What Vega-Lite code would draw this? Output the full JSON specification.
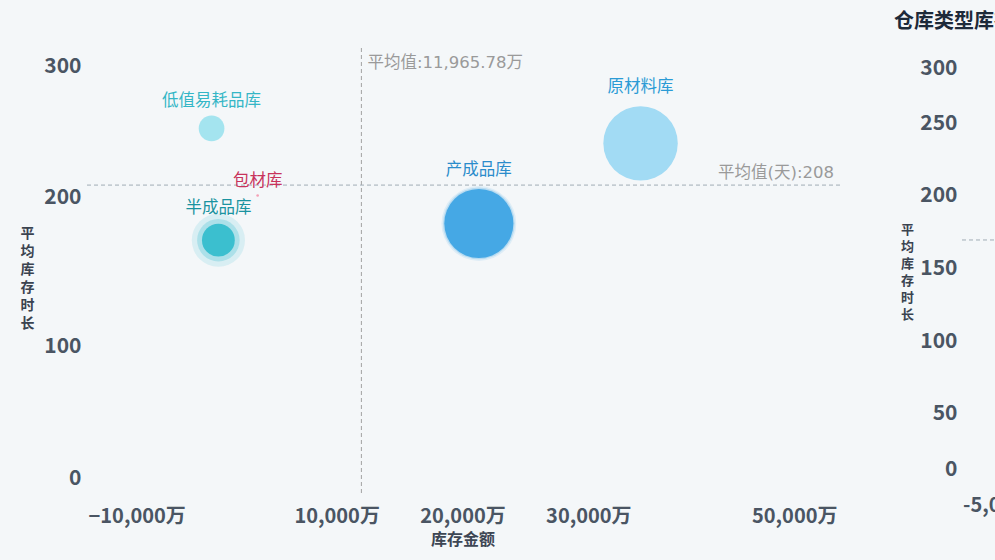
{
  "$schema": "https://vega.github.io/schema/vega-lite/v6.json",
  "width": 755,
  "height": 447,
  "autosize": {"type": "none"},
  "padding": {"left": 85, "top": 48, "right": 155, "bottom": 65},
  "background": "#f4f7f9",
  "title": {
    "text": "仓库类型库存指标分布",
    "anchor": "start",
    "frame": "group",
    "dx": -68,
    "offset": 18,
    "fontSize": 20,
    "fontWeight": "bold",
    "color": "#1d2a3a",
    "font": "Noto Sans CJK SC"
  },
  "config": {
    "view": {"stroke": null},
    "font": "Noto Sans CJK SC"
  },
  "datasets": {
    "wh": [
      {"name": "低值易耗品库", "amount": 58.9, "days": 246, "qty": 169},
      {"name": "包材库", "amount": 3720, "days": 201, "qty": 1.8},
      {"name": "半成品库", "amount": 600, "days": 171, "qty": 275},
      {"name": "产成品库", "amount": 21300.01, "days": 182.24, "qty": 1222.26},
      {"name": "原材料库", "amount": 34150, "days": 236, "qty": 1417.6}
    ],
    "avg": [
      {"avgAmount": 11965.78, "avgDays": 208, "amountLabel": "平均值:11,965.78万", "daysLabel": "平均值(天):208"}
    ],
    "right": [
      {"title": "仓库类型库存指标分布", "xStart": -5000, "xEnd": 45000, "xStartLabel": "-5,000万", "avgDays": 169.7}
    ]
  },
  "resolve": {"scale": {"x": "independent", "y": "independent"}},
  "layer": [
    {
      "layer": [
        {
          "data": {"name": "avg"},
          "mark": {"type": "rule", "color": "#a3a3a3", "strokeDash": [4, 3], "strokeWidth": 1},
          "encoding": {
            "x": {"field": "avgAmount", "type": "quantitative", "scale": {"domain": [-10000, 50000], "nice": false, "zero": false}}
          }
        },
        {
          "data": {"name": "avg"},
          "mark": {"type": "rule", "color": "#a0adb5", "strokeDash": [4, 3], "strokeWidth": 1},
          "encoding": {
            "y": {"field": "avgDays", "type": "quantitative", "scale": {"domain": [0, 300], "nice": false, "zero": false}}
          }
        },
        {
          "data": {"name": "wh"},
          "transform": [{"filter": "datum.name === '半成品库'"}],
          "mark": {"type": "circle", "size": 2830, "color": "#3bbfcf", "opacity": 0.15},
          "encoding": {
            "x": {"field": "amount", "type": "quantitative"},
            "y": {"field": "days", "type": "quantitative"}
          }
        },
        {
          "data": {"name": "wh"},
          "transform": [{"filter": "datum.name === '半成品库'"}],
          "mark": {"type": "circle", "size": 1810, "color": "#3bbfcf", "opacity": 0.28},
          "encoding": {
            "x": {"field": "amount", "type": "quantitative"},
            "y": {"field": "days", "type": "quantitative"}
          }
        },
        {
          "data": {"name": "wh"},
          "transform": [{"filter": "datum.name === '产成品库'"}],
          "mark": {"type": "circle", "size": 5600, "color": "#45a8e5", "opacity": 0.12},
          "encoding": {
            "x": {"field": "amount", "type": "quantitative"},
            "y": {"field": "days", "type": "quantitative"}
          }
        },
        {
          "data": {"name": "wh"},
          "transform": [{"filter": "datum.name === '产成品库'"}],
          "mark": {"type": "circle", "size": 5150, "color": "#45a8e5", "opacity": 0.25},
          "encoding": {
            "x": {"field": "amount", "type": "quantitative"},
            "y": {"field": "days", "type": "quantitative"}
          }
        },
        {
          "data": {"name": "wh"},
          "mark": {"type": "circle", "opacity": 1},
          "encoding": {
            "x": {
              "field": "amount",
              "type": "quantitative",
              "axis": {
                "values": [-10000, 10000, 20000, 30000, 50000],
                "labelExpr": "format(datum.value, ',') + '万'",
                "labelFlush": true,
                "labelFlushOffset": -3,
                "labelFontSize": 20,
                "labelFontWeight": "bold",
                "labelColor": "#4a5563",
                "labelPadding": 11,
                "domain": false,
                "ticks": false,
                "tickSize": 0,
                "grid": false,
                "title": "库存金额",
                "titleFontSize": 16,
                "titleFontWeight": "bold",
                "titleColor": "#3d4654",
                "titlePadding": 5
              }
            },
            "y": {
              "field": "days",
              "type": "quantitative",
              "axis": {
                "values": [0, 100, 200, 300],
                "labelFlush": true,
                "labelFlushOffset": -7,
                "labelFontSize": 21,
                "labelFontWeight": "bold",
                "labelColor": "#4a5563",
                "labelPadding": 4,
                "domain": false,
                "ticks": false,
                "tickSize": 0,
                "grid": false,
                "title": ["平", "均", "库", "存", "时", "长"],
                "titleAngle": 0,
                "titleX": -58,
                "titleY": 185,
                "titleAlign": "center",
                "titleBaseline": "middle",
                "titleFontSize": 14,
                "titleLineHeight": 18,
                "titleFontWeight": "bold",
                "titleColor": "#3a4350"
              }
            },
            "size": {
              "field": "qty",
              "type": "quantitative",
              "scale": {"type": "linear", "domain": [0, 1222.26], "range": [0, 4778], "zero": true},
              "legend": null
            },
            "color": {
              "field": "name",
              "type": "nominal",
              "scale": {
                "domain": ["低值易耗品库", "包材库", "半成品库", "产成品库", "原材料库"],
                "range": ["#a4e4ef", "#f4a0b5", "#3bbfcf", "#45a8e5", "#a2dbf4"]
              },
              "legend": null
            },
            "tooltip": [
              {"field": "name", "title": "仓库"},
              {"field": "amount", "title": "库存金额", "format": ",.2f"},
              {"field": "days", "title": "平均库存时长", "format": ".2f"},
              {"field": "qty", "title": "库存数量", "format": ",.2f"}
            ]
          }
        },
        {
          "data": {"name": "wh"},
          "mark": {"type": "text", "theta": 0, "fontSize": 16.5, "baseline": "middle", "align": "center"},
          "encoding": {
            "x": {"field": "amount", "type": "quantitative"},
            "y": {"field": "days", "type": "quantitative"},
            "radius": {
              "field": "qty",
              "type": "quantitative",
              "scale": {"type": "sqrt", "domain": [0, 1222.26], "range": [13, 53], "zero": false}
            },
            "text": {"field": "name"},
            "fill": {
              "field": "name",
              "type": "nominal",
              "scale": {
                "domain": ["低值易耗品库", "包材库", "半成品库", "产成品库", "原材料库"],
                "range": ["#34b6c6", "#c8335c", "#1a93a0", "#2b8ccb", "#2b9bd5"]
              },
              "legend": null
            }
          }
        },
        {
          "data": {"name": "avg"},
          "mark": {"type": "text", "align": "left", "baseline": "top", "dx": 6, "dy": 7, "fontSize": 16.5, "color": "#9a9a9a", "font": "DejaVu Sans, Noto Sans CJK SC"},
          "encoding": {
            "x": {"field": "avgAmount", "type": "quantitative"},
            "y": {"datum": 300},
            "text": {"field": "amountLabel"}
          }
        },
        {
          "data": {"name": "avg"},
          "mark": {"type": "text", "align": "right", "baseline": "bottom", "dx": -6, "dy": -4, "fontSize": 16.5, "color": "#9a9a9a", "font": "DejaVu Sans, Noto Sans CJK SC"},
          "encoding": {
            "x": {"datum": 50000},
            "y": {"field": "avgDays", "type": "quantitative"},
            "text": {"field": "daysLabel"}
          }
        }
      ]
    },
    {
      "data": {"name": "right"},
      "layer": [
        {
          "mark": {"type": "rule", "color": "#a0adb5", "strokeDash": [4, 3], "strokeWidth": 1},
          "encoding": {
            "x": {
              "field": "xStart",
              "type": "quantitative",
              "scale": {"domain": [-75160, -14760], "nice": false, "zero": false},
              "axis": null
            },
            "x2": {"field": "xEnd"},
            "y": {
              "field": "avgDays",
              "type": "quantitative",
              "scale": {"domain": [-5.78, 301.8], "nice": false, "zero": false},
              "axis": {
                "orient": "right",
                "values": [0, 50, 100, 150, 200, 250, 300],
                "labelFlush": 12,
                "labelFlushOffset": -7,
                "labelAlign": "right",
                "labelFontSize": 21,
                "labelFontWeight": "bold",
                "labelColor": "#4a5563",
                "labelPadding": 117,
                "domain": false,
                "ticks": false,
                "tickSize": 0,
                "grid": false,
                "title": ["平", "均", "库", "存", "时", "长"],
                "titleAngle": 0,
                "titleX": 67,
                "titleY": 181,
                "titleAlign": "center",
                "titleBaseline": "middle",
                "titleFontSize": 13,
                "titleLineHeight": 17,
                "titleFontWeight": "bold",
                "titleColor": "#3a4350"
              }
            }
          }
        },
        {
          "mark": {"type": "text", "align": "left", "baseline": "middle", "dx": -68, "dy": -29, "fontSize": 20, "fontWeight": "bold", "color": "#1d2a3a"},
          "encoding": {
            "x": {"field": "xStart", "type": "quantitative"},
            "y": {"datum": 300},
            "text": {"field": "title"}
          }
        },
        {
          "mark": {"type": "text", "align": "left", "baseline": "middle", "dx": 1, "dy": 11, "fontSize": 20, "fontWeight": "bold", "color": "#4a5563"},
          "encoding": {
            "x": {"field": "xStart", "type": "quantitative"},
            "y": {"datum": -5.78},
            "text": {"field": "xStartLabel"}
          }
        }
      ]
    }
  ]
}
